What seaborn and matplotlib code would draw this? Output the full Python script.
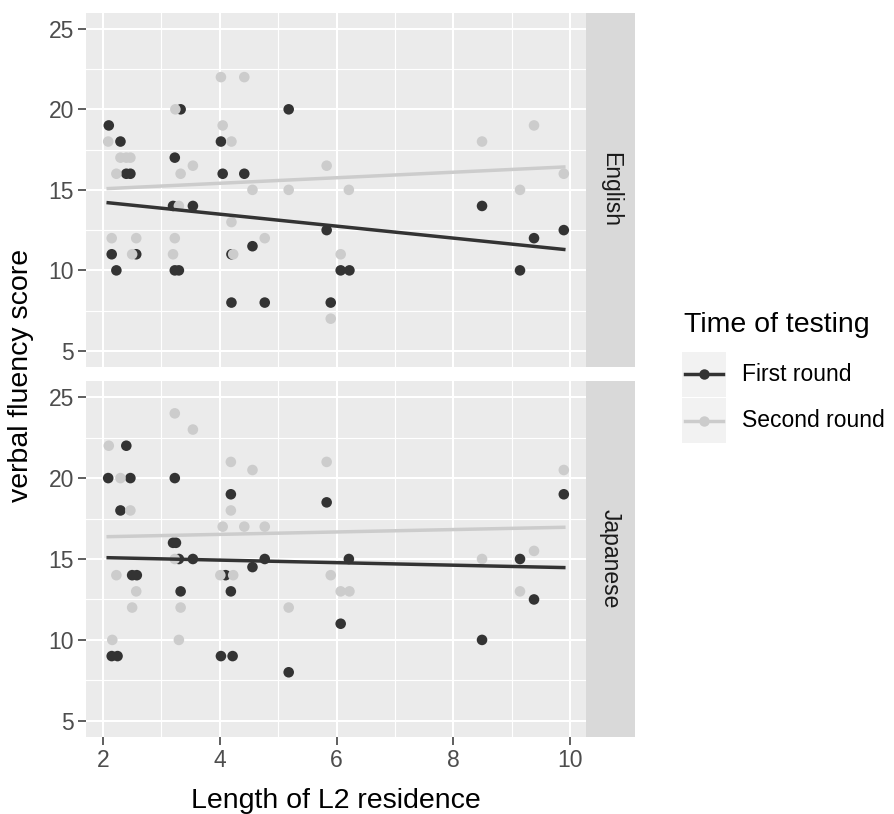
import numpy as np
import pandas as pd
import matplotlib
matplotlib.use("Agg")
import matplotlib.pyplot as plt
import seaborn as sns
from matplotlib.lines import Line2D
from matplotlib.patches import Rectangle

# ---------------- data ----------------
languages = ["English", "Japanese"]
time_levels = ["First round", "Second round"]
x_ticks = [2, 4, 6, 8, 10]
y_ticks = [5, 10, 15, 20, 25]

eng_first_x = [2.1, 2.3, 2.4, 2.47, 2.15, 2.57, 2.23, 3.33, 3.23, 3.2, 3.54, 3.23, 3.3,
               4.02, 4.05, 4.42, 4.56, 4.2, 4.2, 4.77, 5.18, 5.83, 5.9, 6.07, 6.22,
               8.49, 9.14, 9.38, 9.89]
eng_first_y = [19, 18, 16, 16, 11, 11, 10, 20, 17, 14, 14, 10, 10,
               18, 16, 16, 11.5, 11, 8, 8, 20, 12.5, 8, 10, 10,
               14, 10, 12, 12.5]

eng_second_x = [2.09, 2.3, 2.4, 2.47, 2.23, 2.15, 2.57, 2.5, 3.24, 4.05, 4.2, 3.33, 3.54,
                3.3, 3.23, 3.2, 4.2, 4.23, 4.77, 4.56, 5.18, 5.83, 5.9, 4.02, 4.42,
                6.07, 6.21, 8.49, 9.38, 9.14, 9.89]
eng_second_y = [18, 17, 17, 17, 16, 12, 12, 11, 20, 19, 18, 16, 16.5,
                14, 12, 11, 13, 11, 12, 15, 15, 16.5, 7, 22, 22,
                11, 15, 18, 19, 15, 16]

jap_first_x = [2.4, 2.09, 2.47, 2.3, 2.15, 2.25, 2.5, 2.58, 3.23, 3.2, 3.25, 3.3, 3.54,
               3.33, 4.19, 4.02, 4.22, 4.1, 4.19, 4.56, 4.77, 5.18, 5.83, 6.07, 6.21,
               8.49, 9.14, 9.38, 9.89]
jap_first_y = [22, 20, 20, 18, 9, 9, 14, 14, 20, 16, 16, 15, 15,
               13, 19, 9, 9, 14, 13, 14.5, 15, 8, 18.5, 11, 15,
               10, 15, 12.5, 19]

jap_second_x = [2.1, 2.3, 2.47, 2.23, 2.57, 2.5, 2.16, 3.23, 3.54, 3.23, 3.33, 3.3, 4.19,
                4.56, 4.19, 4.05, 4.42, 4.77, 4.01, 4.23, 5.18, 5.83, 5.9, 6.07, 6.22,
                8.49, 9.14, 9.38, 9.89]
jap_second_y = [22, 20, 18, 14, 13, 12, 10, 24, 23, 15, 12, 10, 21,
                20.5, 18, 17, 17, 17, 14, 14, 12, 21, 14, 13, 13,
                15, 13, 15.5, 20.5]

# fitted trend lines (start / end of each line)
fit_x = [2.09, 9.89]
eng_first_fit = [14.2, 11.3]
eng_second_fit = [15.08, 16.42]
jap_first_fit = [15.08, 14.47]
jap_second_fit = [16.38, 16.96]

frames, fit_frames = [], []
for lang, t, xs, ys, fy_ in [
    ("English", "First round", eng_first_x, eng_first_y, eng_first_fit),
    ("English", "Second round", eng_second_x, eng_second_y, eng_second_fit),
    ("Japanese", "First round", jap_first_x, jap_first_y, jap_first_fit),
    ("Japanese", "Second round", jap_second_x, jap_second_y, jap_second_fit),
]:
    frames.append(pd.DataFrame({"residence": xs, "score": ys, "language": lang, "time": t}))
    fit_frames.append(pd.DataFrame({"residence": fit_x, "score": fy_, "language": lang, "time": t}))
df = pd.concat(frames, ignore_index=True)
fits = pd.concat(fit_frames, ignore_index=True)

palette = {"First round": "#333333", "Second round": "#CCCCCC"}

# ---------------- figure ----------------
plt.rcParams["font.family"] = ["Liberation Sans", "DejaVu Sans"]
W, H = 895, 814
fig = plt.figure(figsize=(W / 100, H / 100), dpi=100)

panel_left, panel_right = 86, 586
panels = {"English": (12.7, 367), "Japanese": (381, 737)}
strip_right = 635

for lang in languages:
    top, bot = panels[lang]
    ax = fig.add_axes([panel_left / W, 1 - bot / H, (panel_right - panel_left) / W, (bot - top) / H])
    ax.set_facecolor("#EBEBEB")
    for sp in ax.spines.values():
        sp.set_visible(False)
    sub = df[df["language"] == lang]
    sns.scatterplot(data=sub, x="residence", y="score", hue="time", palette=palette,
                    hue_order=time_levels, s=58, linewidth=0, legend=False, ax=ax, zorder=2)
    sns.lineplot(data=fits[fits["language"] == lang], x="residence", y="score", hue="time",
                 palette=palette, hue_order=time_levels, lw=2.5, legend=False, ax=ax,
                 zorder=3, estimator=None, sort=True)
    ax.set_xlabel("")
    ax.set_ylabel("")
    ax.set_xlim(1.71, 10.27)
    ax.set_ylim(4, 26)
    ax.set_xticks(x_ticks)
    ax.set_xticks([3, 5, 7, 9], minor=True)
    ax.set_yticks(y_ticks)
    ax.set_yticks([7.5, 12.5, 17.5, 22.5], minor=True)
    ax.set_axisbelow(True)
    ax.grid(which="major", color="white", lw=1.5)
    ax.grid(which="minor", color="white", lw=0.8)
    ax.tick_params(which="major", length=5.5, width=1.1, color="#333333",
                   labelcolor="#4D4D4D", labelsize=16.5, pad=3)
    ax.tick_params(which="minor", length=0)
    if lang == "English":
        ax.tick_params(axis="x", which="both", bottom=False, labelbottom=False)

    # strip
    fig.add_artist(Rectangle((panel_right / W, 1 - bot / H), (strip_right - panel_right) / W,
                             (bot - top) / H, transform=fig.transFigure,
                             facecolor="#D9D9D9", edgecolor="none"))
    fig.text((panel_right + strip_right) / 2 / W, 1 - (top + bot) / 2 / H, lang,
             rotation=-90, ha="center", va="center", fontsize=16.5, color="#1A1A1A")

# axis titles
fig.text((panel_left + panel_right) / 2 / W, 1 - 808 / H, "Length of L2 residence",
         ha="center", va="baseline", fontsize=20.5, color="black")
fig.text(21 / W, 1 - 375 / H, "verbal fluency score", rotation=90,
         ha="center", va="center", fontsize=20.5, color="black")

# legend
fig.text(684 / W, 1 - 325 / H, "Time of testing", ha="left", va="center",
         fontsize=20.5, color="black")
key_rows = [(352, 397), (398, 443)]
for t, (ky0, ky1) in zip(time_levels, key_rows):
    fig.add_artist(Rectangle((682 / W, 1 - ky1 / H), 44 / W, (ky1 - ky0) / H,
                             transform=fig.transFigure, facecolor="#F2F2F2", edgecolor="none"))
    yc = 1 - (ky0 + ky1) / 2 / H
    fig.add_artist(Line2D([685 / W, 723 / W], [yc, yc], transform=fig.transFigure,
                          color=palette[t], lw=2.5))
    fig.add_artist(Line2D([704 / W], [yc], transform=fig.transFigure, marker="o",
                          markersize=7.5, markeredgewidth=0, color=palette[t]))
    fig.text(742 / W, yc, t, ha="left", va="center", fontsize=16.5, color="black")

fig.savefig("out.png", dpi=100)
